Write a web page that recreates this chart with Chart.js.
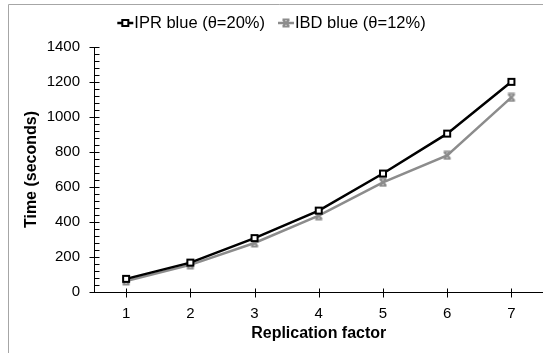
<!DOCTYPE html>
<html>
<head>
<meta charset="utf-8">
<script src="https://cdn.jsdelivr.net/npm/chart.js@4.4.1/dist/chart.umd.min.js"></script>
<style>
  html, body { margin: 0; padding: 0; background: #fff; overflow: hidden; }
  #wrap { position: relative; width: 550px; height: 353px; }
</style>
</head>
<body>
<div id="wrap"><canvas id="chart"></canvas></div>
<script>
// values
var categories = ["1", "2", "3", "4", "5", "6", "7"];
var iprValues = [75, 168, 308, 465, 677, 905, 1201];
var ibdValues = [63, 155, 280, 436, 627, 781, 1112];
var seriesNames = ["IPR blue (\u03b8=20%)", "IBD blue (\u03b8=12%)"];
var yMin = 0, yMax = 1400, yStep = 200, yMinorStep = 40;

var black = "#000000";
var grey = "#8c8c8c";
var fontFamily = "Arial, 'Liberation Sans', sans-serif";

function squareMarker(ctx, cx, cy) {
  ctx.fillStyle = "#fff";
  ctx.fillRect(cx - 3, cy - 3, 6, 6);
  ctx.strokeStyle = black;
  ctx.lineWidth = 2;
  ctx.strokeRect(cx - 3, cy - 3, 6, 6);
}

function crossMarker(ctx, cx, cy) {
  ctx.strokeStyle = grey;
  ctx.lineWidth = 2;
  ctx.beginPath();
  ctx.moveTo(cx - 3, cy - 3); ctx.lineTo(cx + 3, cy + 3);
  ctx.moveTo(cx + 3, cy - 3); ctx.lineTo(cx - 3, cy + 3);
  ctx.moveTo(cx - 3.5, cy - 3.5); ctx.lineTo(cx + 3.5, cy - 3.5);
  ctx.moveTo(cx - 3.5, cy + 3.5); ctx.lineTo(cx + 3.5, cy + 3.5);
  ctx.stroke();
}

function makeIcon(w, h, drawFn) {
  var c = document.createElement("canvas");
  c.width = w; c.height = h;
  drawFn(c.getContext("2d"), w / 2, h / 2);
  return c;
}

var iprPoint = makeIcon(10, 10, squareMarker);
var ibdPoint = makeIcon(10, 10, crossMarker);
var markerFns = [squareMarker, crossMarker];
var lineColors = [black, grey];

// frame, legend, and axes with major/minor ticks
var axesPlugin = {
  id: "axesPlugin",
  beforeDraw: function (chart) {
    var ctx = chart.ctx;
    ctx.save();
    ctx.strokeStyle = "#a6a6a6";
    ctx.lineWidth = 1;
    ctx.beginPath();
    ctx.moveTo(8.5, 353); ctx.lineTo(8.5, 4.5); ctx.lineTo(550, 4.5);
    ctx.stroke();

    // legend: short line with marker, then the series name
    ctx.font = "16.5px " + fontFamily;
    ctx.textBaseline = "middle";
    ctx.fillStyle = "#000";
    var iconW = 16, iconGap = 1, itemGap = 13, cy = 23;
    var total = 0;
    var widths = seriesNames.map(function (s) { return ctx.measureText(s).width; });
    widths.forEach(function (w, i) { total += iconW + iconGap + w + (i > 0 ? itemGap : 0); });
    var x = 271.5 - total / 2;
    seriesNames.forEach(function (name, i) {
      ctx.strokeStyle = lineColors[i];
      ctx.lineWidth = 2.5;
      ctx.beginPath();
      ctx.moveTo(x, cy); ctx.lineTo(x + iconW, cy);
      ctx.stroke();
      markerFns[i](ctx, x + iconW / 2, cy);
      ctx.fillStyle = "#000";
      ctx.fillText(name, x + iconW + iconGap, cy);
      x += iconW + iconGap + widths[i] + itemGap;
    });
    ctx.restore();
  },
  beforeDatasetsDraw: function (chart) {
    var ctx = chart.ctx;
    var xs = chart.scales.x, ys = chart.scales.y;
    var a = chart.chartArea;
    var x0 = Math.round(a.left) + 0.5;
    var y0 = Math.round(ys.getPixelForValue(0)) + 0.5;
    ctx.save();
    ctx.strokeStyle = "#000";
    ctx.lineWidth = 1;
    ctx.beginPath();
    ctx.moveTo(x0, Math.round(ys.getPixelForValue(yMax)) + 0.5);
    ctx.lineTo(x0, y0);
    ctx.lineTo(a.right, y0);
    for (var v = yMin; v <= yMax; v += yMinorStep) {
      var py = Math.round(ys.getPixelForValue(v)) + 0.5;
      if (v % yStep === 0) {
        ctx.moveTo(x0 - 5, py); ctx.lineTo(x0 + 5, py);
      } else {
        ctx.moveTo(x0, py); ctx.lineTo(x0 + 5, py);
      }
    }
    for (var i = 0; i < categories.length; i++) {
      var px = Math.round(xs.getPixelForValue(i)) + 0.5;
      ctx.moveTo(px, y0 - 4); ctx.lineTo(px, y0 + 5);
    }
    ctx.stroke();
    ctx.restore();
  }
};

new Chart(document.getElementById("chart"), {
  type: "line",
  data: {
    labels: categories,
    datasets: [
      {
        label: seriesNames[0],
        data: iprValues,
        borderColor: black,
        backgroundColor: black,
        borderWidth: 2.5,
        pointStyle: iprPoint,
        tension: 0
      },
      {
        label: seriesNames[1],
        data: ibdValues,
        borderColor: grey,
        backgroundColor: grey,
        borderWidth: 2.5,
        pointStyle: ibdPoint,
        tension: 0
      }
    ]
  },
  options: {
    responsive: true,
    maintainAspectRatio: false,
    animation: false,
    layout: { padding: { top: 47, left: 0, right: 0, bottom: 0 } },
    plugins: {
      tooltip: { enabled: false },
      legend: { display: false }
    },
    scales: {
      x: {
        type: "category",
        offset: true,
        grid: { display: false, drawTicks: false },
        border: { display: false },
        ticks: {
          padding: 13,
          color: "#000",
          font: { family: fontFamily, size: 15 }
        },
        title: {
          display: true,
          text: "Replication factor",
          color: "#000",
          font: { family: fontFamily, size: 16, weight: "bold" },
          padding: { top: 0, bottom: 10 }
        },
        afterFit: function (scale) { scale.height = 61; }
      },
      y: {
        min: yMin,
        max: yMax,
        grid: { display: false, drawTicks: false },
        border: { display: false },
        ticks: {
          stepSize: yStep,
          padding: 14,
          color: "#000",
          font: { family: fontFamily, size: 15 },
          callback: function (value) { return String(value); }
        },
        title: {
          display: true,
          text: "Time (seconds)",
          color: "#000",
          font: { family: fontFamily, size: 16, weight: "bold" },
          padding: { top: 22, bottom: 0 }
        },
        afterFit: function (scale) { scale.width = 94; }
      }
    }
  },
  plugins: [axesPlugin]
});
</script>
</body>
</html>
